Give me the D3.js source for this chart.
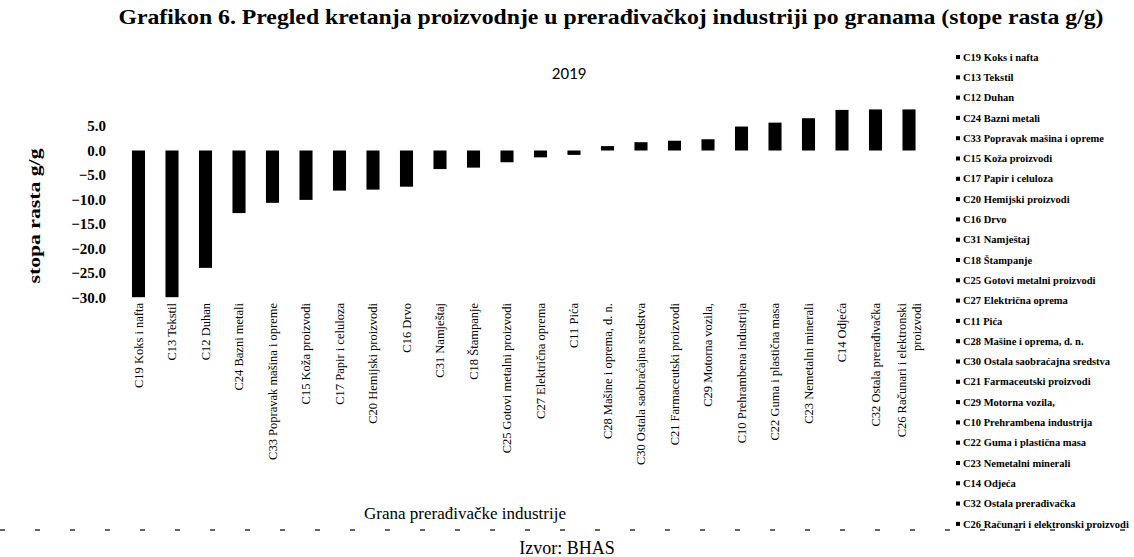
<!DOCTYPE html>
<html>
<head>
<meta charset="utf-8">
<script src="https://cdn.jsdelivr.net/npm/d3@7"></script>
<style>
  body { margin: 0; background: #fff; }
  svg { display: block; }
</style>
</head>
<body>
<script>
// podaci
const categories = [
  "C19 Koks i nafta", "C13 Tekstil", "C12 Duhan", "C24 Bazni metali",
  "C33 Popravak mašina i opreme", "C15 Koža proizvodi", "C17 Papir i celuloza",
  "C20 Hemijski proizvodi", "C16 Drvo", "C31 Namještaj", "C18 Štampanje",
  "C25 Gotovi metalni proizvodi", "C27 Električna oprema", "C11 Pića",
  "C28 Mašine i oprema, d. n.", "C30 Ostala saobraćajna sredstva",
  "C21 Farmaceutski proizvodi", "C29 Motorna vozila,", "C10 Prehrambena industrija",
  "C22 Guma i plastična masa", "C23 Nemetalni minerali", "C14 Odjeća",
  "C32 Ostala prerađivačka", "C26 Računari i elektronski proizvodi"
];
const values = [
  -30.0, -30.0, -24.0, -12.8, -10.7, -10.1, -8.2, -8.0, -7.4, -3.8, -3.5, -2.4,
  -1.4, -0.9, 0.9, 1.7, 2.0, 2.3, 4.9, 5.7, 6.6, 8.3, 8.4, 8.4
];
const yTicks = [5, 0, -5, -10, -15, -20, -25, -30];

const width = 1134, height = 557;
const serif = "Liberation Serif, Times New Roman, Times, serif";

const svg = d3.select("body").append("svg")
  .attr("width", width)
  .attr("height", height)
  .attr("font-family", serif);

const x = d3.scaleBand()
  .domain(categories)
  .range([121.75, 925.75])
  .paddingInner(0.61)
  .paddingOuter(0.305);

const y = d3.scaleLinear()
  .domain([-30, 10])
  .range([297.2, 101.6]);

// naslov
svg.append("text")
  .attr("x", 611).attr("y", 24)
  .attr("text-anchor", "middle")
  .attr("font-family", serif)
  .attr("font-weight", "bold")
  .attr("font-size", 21)
  .attr("textLength", 985)
  .attr("lengthAdjust", "spacingAndGlyphs")
  .text("Grafikon 6. Pregled kretanja proizvodnje u prerađivačkoj industriji po granama (stope rasta g/g)");

svg.append("text")
  .attr("x", 569).attr("y", 79)
  .attr("text-anchor", "middle")
  .attr("font-family", "Carlito, Open Sans, sans-serif")
  .attr("font-size", 17)
  .text("2019");

// stupci
svg.selectAll("rect.bar")
  .data(values)
  .join("rect")
  .attr("class", "bar")
  .attr("x", (d, i) => x(categories[i]))
  .attr("width", x.bandwidth())
  .attr("y", d => y(Math.max(0, d)))
  .attr("height", d => Math.abs(y(d) - y(0)))
  .attr("fill", "#000");

// y os
const yAxis = svg.append("g")
  .attr("transform", "translate(106,0)")
  .call(d3.axisLeft(y).tickValues(yTicks).tickSize(0).tickPadding(0).tickFormat(d3.format(".1f")));
yAxis.attr("font-family", serif).attr("font-size", 15).attr("font-weight", "bold");
yAxis.select(".domain").remove();
yAxis.selectAll("text").attr("fill", "#000");

svg.append("text")
  .attr("transform", "translate(40,216) rotate(-90)")
  .attr("text-anchor", "middle")
  .attr("font-family", serif)
  .attr("font-weight", "bold")
  .attr("font-size", 17)
  .attr("textLength", 135)
  .attr("lengthAdjust", "spacingAndGlyphs")
  .text("stopa rasta g/g");

// x os
const xAxis = svg.append("g")
  .attr("transform", "translate(0,303)")
  .call(d3.axisBottom(x).tickSize(0).tickPadding(0));
xAxis.attr("font-family", serif).attr("font-size", 12.5);
xAxis.select(".domain").remove();
xAxis.selectAll("text").remove();
xAxis.selectAll(".tick").each(function(d) {
  const t = d3.select(this).append("text")
    .attr("transform", "rotate(-90)")
    .attr("text-anchor", "end")
    .attr("fill", "#000");
  if (d.startsWith("C26")) {
    t.append("tspan").attr("x", 0).attr("y", -7).attr("dy", "0.35em").text("C26 Računari i elektronski");
    t.append("tspan").attr("x", 0).attr("y", 8).attr("dy", "0.35em").text("proizvodi");
  } else {
    t.attr("dy", "0.35em").text(d);
  }
});

svg.append("text")
  .attr("x", 465).attr("y", 519)
  .attr("text-anchor", "middle")
  .attr("font-family", serif)
  .attr("font-size", 17)
  .text("Grana prerađivačke industrije");

// legenda
const legend = svg.append("g").attr("transform", "translate(956,57)");
const item = legend.selectAll("g")
  .data(categories)
  .join("g")
  .attr("transform", (d, i) => `translate(0,${i * 20.3})`);
item.append("rect")
  .attr("x", 0).attr("y", -2)
  .attr("width", 4).attr("height", 4)
  .attr("fill", "#000");
item.append("text")
  .attr("x", 7).attr("dy", "0.35em")
  .attr("font-family", serif)
  .attr("font-weight", "bold")
  .attr("font-size", 10.5)
  .text(d => d);

// donja linija i izvor
svg.append("line")
  .attr("x1", 0).attr("x2", width)
  .attr("y1", 530).attr("y2", 530)
  .attr("stroke", "#333")
  .attr("stroke-width", 1.5)
  .attr("stroke-dasharray", "5,30");

svg.append("text")
  .attr("x", 567).attr("y", 554)
  .attr("text-anchor", "middle")
  .attr("font-family", serif)
  .attr("font-size", 18)
  .text("Izvor: BHAS");
</script>
</body>
</html>
